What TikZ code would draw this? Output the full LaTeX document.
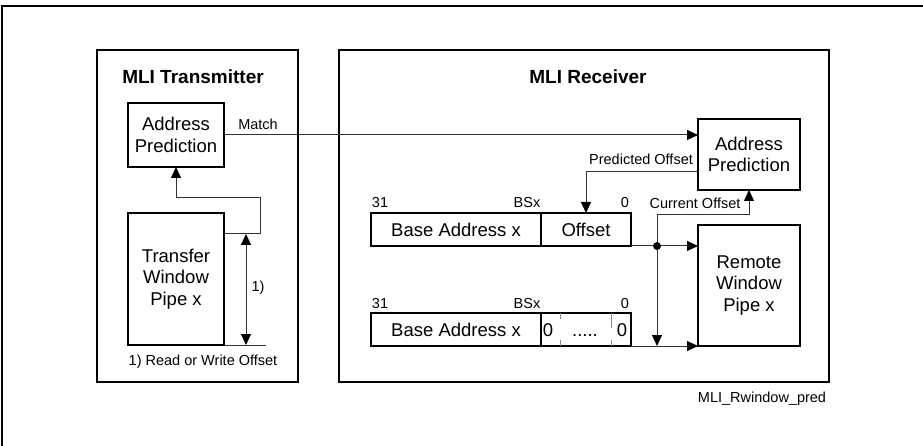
\documentclass[tikz,border=0pt]{standalone}
\usepackage{fontspec}
\setmainfont{Liberation Sans}
\usetikzlibrary{arrows.meta,calc}
\begin{document}
\begin{tikzpicture}[x=1pt,y=-1pt,
  frame/.style={draw=black,line width=2.6pt,inner sep=0pt,outer sep=0pt},
  box/.style={frame,align=center,font=\fontsize{18.5}{21.7}\selectfont},
  conn/.style={draw=black!80,line width=1pt},
  tip/.style={-{Triangle[length=11pt,width=10pt,fill=black,color=black]}},
  small/.style={font=\fontsize{14.5}{17}\selectfont,inner sep=0pt},
  title/.style={font=\fontsize{19}{22}\selectfont\bfseries,inner sep=0pt},
  tick/.style={draw=black!45,line width=0.8pt}]
\useasboundingbox (0,0) rectangle (923,446);
% outer frame (top and left edges only)
\coordinate (fa) at (2,446);
\coordinate (fb) at (2,6);
\coordinate (fc) at (923,6);
\draw[black,line width=1.5pt] (fa) -- (fb) -- (fc);
% containers
\node[frame,minimum width=201pt,minimum height=332pt] (tx) at (197.5,216) {};
\node[frame,minimum width=490pt,minimum height=332pt] (rx) at (584,216) {};
\node[title] (txt) at (193,77) {MLI Transmitter};
\node[title] (rxt) at (588,77) {MLI Receiver};
% transmitter
\node[box,minimum width=96pt,minimum height=64pt] (txap) at (176,135) {Address\\Prediction};
\node[box,minimum width=96pt,minimum height=132pt] (txw) at (176,279) {Transfer\\Window\\Pipe x};
% receiver
\node[box,minimum width=102pt,minimum height=71pt] (rxap) at (749,154.5) {Address\\Prediction};
\node[box,minimum width=102pt,minimum height=121pt] (rw) at (749,285.5) {Remote\\Window\\Pipe x};
\node[box,minimum width=170pt,minimum height=33pt] (base1) at (456,229.5) {Base Address x};
\node[box,minimum width=90pt,minimum height=33pt] (off) at (586,229.5) {Offset};
\node[box,minimum width=170pt,minimum height=33pt] (base2) at (456,329.5) {Base Address x};
\node[frame,minimum width=90pt,minimum height=33pt] (zero) at (586,329.5) {};
\node[box,draw=none,inner sep=0pt] (z1) at (548,330) {0};
\node[box,draw=none,inner sep=0pt] (zd) at (585,336) {.....};
\node[box,draw=none,inner sep=0pt] (z2) at (622,330) {0};
\draw[tick] (560,313) -- (560,319) (560,340) -- (560,346);
\draw[tick] (611,313) -- (611,328) (611,340) -- (611,346);
% bit labels
\node[small] (b31a) at (380,203) {31};
\node[small] (bsa) at (527,203) {BSx};
\node[small] (b0a) at (625,203) {0};
\node[small] (b31b) at (380,304) {31};
\node[small] (bsb) at (527,304) {BSx};
\node[small] (b0b) at (625,304) {0};
% connectors
\draw[conn,tip] (txap.east) -- (txap.east -| rxap.west);
\node[small] (match) at (258,124) {Match};
\coordinate (fbs) at (224,234);
\coordinate (fbr) at (260,198);
\draw[conn,tip] (fbs) -| (fbr) -| (txap.south);
\coordinate (bl) at (266,345);
\draw[conn] (txw.south east) -- (bl);
\coordinate (da) at (246,234);
\coordinate (db) at (246,345);
\draw[conn,{Triangle[length=11pt,width=10pt,fill=black,color=black]}-{Triangle[length=11pt,width=10pt,fill=black,color=black]}] (da) -- (db);
\node[small] (n1) at (258,288) {1)};
\node[small] (rw1) at (203,362) {1) Read or Write Offset};
\coordinate (po) at (698,172);
\draw[conn,tip] (po) -| (off.north);
\node[small] (pol) at (641,159) {Predicted Offset};
\coordinate (dot) at (657,246);
\coordinate (co) at (657,215);
\draw[conn,tip] (dot) -- (co) -| (rxap.south);
\node[small] (col) at (695,203) {Current Offset};
\draw[conn,tip] (off.south east) -- (off.south east -| rw.west);
\draw[conn,tip] (zero.south east) -- (zero.south east -| rw.west);
\draw[conn,tip] (dot) -- (dot |- zero.south);
\fill[black] (dot) circle (4pt);
\node[small] (id) at (762,399) {MLI\_Rwindow\_pred};
\end{tikzpicture}
\end{document}
